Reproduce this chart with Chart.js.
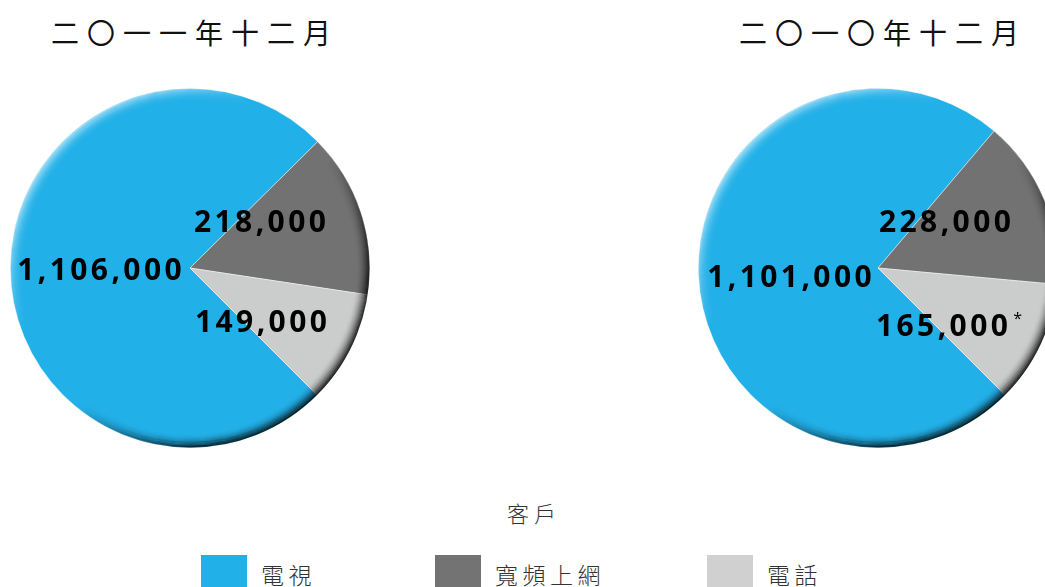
<!DOCTYPE html>
<html>
<head>
<meta charset="utf-8">
<script src="https://cdn.jsdelivr.net/npm/chart.js@4.4.1/dist/chart.umd.min.js"></script>
<style>
  html,body{margin:0;padding:0;background:#fff;}
  #wrap{position:relative;width:1045px;height:587px;overflow:hidden;background:#fff;}
  .title{position:absolute;top:18px;font-family:"Noto Sans CJK TC","Noto Sans CJK SC",sans-serif;font-size:28px;line-height:28px;letter-spacing:8px;color:#111;white-space:nowrap;}
  .pie{position:absolute;top:88px;width:360px;height:360px;}
  #unit{position:absolute;left:507px;top:501px;font-family:"Noto Sans CJK TC",sans-serif;font-weight:300;font-size:22px;line-height:22px;letter-spacing:5px;color:#333;}
  .lg{position:absolute;top:555px;height:46px;white-space:nowrap;}
  .lg .sw{position:absolute;left:0;top:0;width:46px;height:46px;}
  .lg .tx{position:absolute;left:60px;top:7px;font-family:"Noto Sans CJK TC",sans-serif;font-weight:300;font-size:23px;line-height:24px;letter-spacing:4.5px;color:#333;}
</style>
</head>
<body>
<div id="wrap">
  <div class="title" id="t1" style="left:51px"></div>
  <div class="title" id="t2" style="left:739px"></div>
  <div class="pie" style="left:10px"><canvas id="c1"></canvas></div>
  <div class="pie" style="left:698px"><canvas id="c2"></canvas></div>
  <div id="unit"></div>
  <div id="legend"></div>
</div>
<script>
// ---- data ----
const categories = ['電視', '寬頻上網', '電話'];
const titles = ['二〇一一年十二月', '二〇一〇年十二月'];
const unitLabel = '客戶';
const values2011 = [1106000, 218000, 149000];
const values2010 = [1101000, 228000, 165000];
const notes2011 = ['', '', ''];
const notes2010 = ['', '', '*'];

// ---- styles ----
const COLORS = ['#22B0E8', '#727272', '#CBCCCC'];
const LEGEND_COLORS = ['#22B0E8', '#737373', '#D0D0D0'];
const LEGEND_LEFT = [201, 435, 707];

document.getElementById('t1').textContent = titles[0];
document.getElementById('t2').textContent = titles[1];
document.getElementById('unit').textContent = unitLabel;
const lg = document.getElementById('legend');
categories.forEach((c, i) => {
  const d = document.createElement('div');
  d.className = 'lg';
  d.style.left = LEGEND_LEFT[i] + 'px';
  d.innerHTML = '<div class="sw" style="background:' + LEGEND_COLORS[i] + '"></div><div class="tx">' + c + '</div>';
  lg.appendChild(d);
});

// bevel / rim shading
const bevel = {
  id: 'bevel',
  afterDatasetsDraw(chart) {
    const arc = chart.getDatasetMeta(0).data[0];
    const x = arc.x, y = arc.y, r = arc.outerRadius;
    const ctx = chart.ctx;
    ctx.save();
    const n = 14;
    for (let i = 0; i < n; i++) {
      const a = Math.pow(1 - i / n, 2.2);
      const g = ctx.createLinearGradient(x - r * 0.75, y - r * 0.75, x + r * 0.75, y + r * 0.75);
      g.addColorStop(0, 'rgba(255,255,255,' + (0.6 * a) + ')');
      g.addColorStop(0.3, 'rgba(255,255,255,0)');
      g.addColorStop(0.55, 'rgba(0,0,0,0)');
      g.addColorStop(0.85, 'rgba(0,0,0,' + (0.7 * a) + ')');
      g.addColorStop(1, 'rgba(0,0,0,' + (0.85 * a) + ')');
      ctx.strokeStyle = g;
      ctx.lineWidth = 1.3;
      ctx.beginPath();
      ctx.arc(x, y, r - i - 0.6, 0, Math.PI * 2);
      ctx.stroke();
    }
    ctx.restore();
  }
};

// value labels
const valueLabels = {
  id: 'valueLabels',
  afterDatasetsDraw(chart, args, opts) {
    const arc = chart.getDatasetMeta(0).data[0];
    const cx = arc.x, cy = arc.y;
    const ctx = chart.ctx;
    const vals = chart.data.datasets[0].data;
    ctx.save();
    ctx.fillStyle = '#000';
    ctx.textBaseline = 'alphabetic';
    opts.pos.forEach((p, i) => {
      ctx.font = 'bold 30px "Open Sans"';
      ctx.letterSpacing = '3.4px';
      ctx.textAlign = p.align;
      const txt = vals[i].toLocaleString('en-US');
      ctx.fillText(txt, cx + p.dx, cy + p.dy);
      if (opts.notes[i]) {
        const w = ctx.measureText(txt).width;
        const endX = p.align === 'left' ? cx + p.dx + w : cx + p.dx;
        ctx.font = '16px "Open Sans"';
        ctx.letterSpacing = '0px';
        ctx.textAlign = 'left';
        ctx.fillText(opts.notes[i], endX + 2, cy + p.dy - 12);
      }
    });
    ctx.restore();
  }
};

function makePie(id, values, notes, pos) {
  return new Chart(document.getElementById(id), {
    type: 'pie',
    data: {
      labels: categories,
      datasets: [{
        data: values,
        backgroundColor: COLORS,
        borderColor: 'rgba(255,255,255,0.55)',
        borderWidth: 0.8
      }]
    },
    options: {
      responsive: true,
      maintainAspectRatio: false,
      animation: false,
      rotation: 135,
      layout: { padding: 0 },
      plugins: {
        legend: { display: false },
        tooltip: { enabled: false },
        valueLabels: { pos: pos, notes: notes }
      }
    },
    plugins: [bevel, valueLabels]
  });
}

makePie('c1', values2011, notes2011, [
  { align: 'right', dx: -5, dy: 12 },
  { align: 'left', dx: 4, dy: -36 },
  { align: 'left', dx: 5, dy: 64 }
]);
makePie('c2', values2010, notes2010, [
  { align: 'right', dx: -3, dy: 19 },
  { align: 'left', dx: 1, dy: -36 },
  { align: 'left', dx: -2, dy: 68 }
]);
</script>
</body>
</html>
